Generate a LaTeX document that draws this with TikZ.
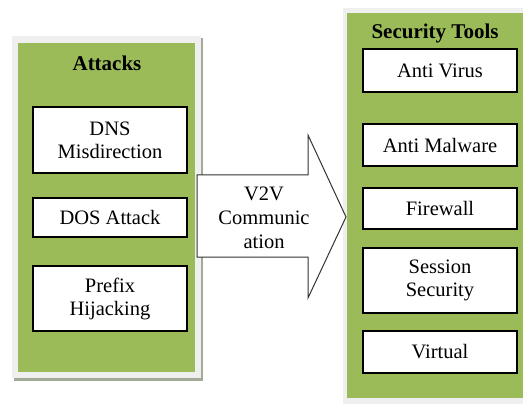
\documentclass[tikz,border=0pt]{standalone}
\usepackage{fontspec}
\setmainfont{Liberation Serif}
\definecolor{panelgreen}{HTML}{9BBB59}
\definecolor{panelframe}{HTML}{EFEFEF}
\definecolor{panelshadow}{HTML}{A3AA98}
\tikzset{
  itembox/.style={draw=black, line width=1.2pt, fill=white, minimum width=154pt,
    align=center, inner sep=2pt, font=\fontsize{20.5}{23}\selectfont},
  paneltitle/.style={font=\fontsize{21}{24}\selectfont\bfseries, inner sep=0pt},
}
\begin{document}
\begin{tikzpicture}[x=1pt,y=-1pt]
\useasboundingbox (0,0) rectangle (523,404);
\fill[white] (0,0) rectangle (523,404);

% left panel
\fill[panelframe] (12,36) rectangle (201,378);
\draw[panelshadow, line width=2.5pt] (14,379.5) -- (202,379.5) -- (202,38);
\fill[panelgreen] (18,43) rectangle (195,372);
\node[paneltitle] (attacks) at (107,63) {Attacks};
\node[itembox, minimum height=66pt] (dns) at (110,140) {DNS\\Misdirection};
\node[itembox, minimum height=39pt] (dos) at (110,217.5) {DOS Attack};
\node[itembox, minimum height=65pt] (prefix) at (110,298.5) {Prefix\\Hijacking};

% right panel
\fill[panelframe] (343,8) rectangle (523,404);
\fill[panelgreen] (347,13) rectangle (523,398);
\node[paneltitle] (tools) at (435,33) {Security Tools};
\node[itembox, minimum height=43pt] (virus) at (440,70.5) {Anti Virus};
\node[itembox, minimum height=42pt] (malware) at (440,145) {Anti Malware};
\node[itembox, minimum height=41pt] (firewall) at (440,208.5) {Firewall};
\node[itembox, minimum height=65pt] (session) at (440,280.5) {Session\\Security};
\node[itembox, minimum height=42pt] (virtual) at (440,352) {Virtual};

% arrow between the panels
\draw[fill=white, draw=black!80, line width=1pt, line join=miter]
  (197,175) -- (308,175) -- (308,135) -- (346,217) -- (308,298) -- (308,257) -- (197,257) -- cycle;
\node[align=center, font=\fontsize{20.5}{24}\selectfont, inner sep=0pt] (v2v) at (264,218) {V2V\\Communic\\ation};
\end{tikzpicture}
\end{document}
